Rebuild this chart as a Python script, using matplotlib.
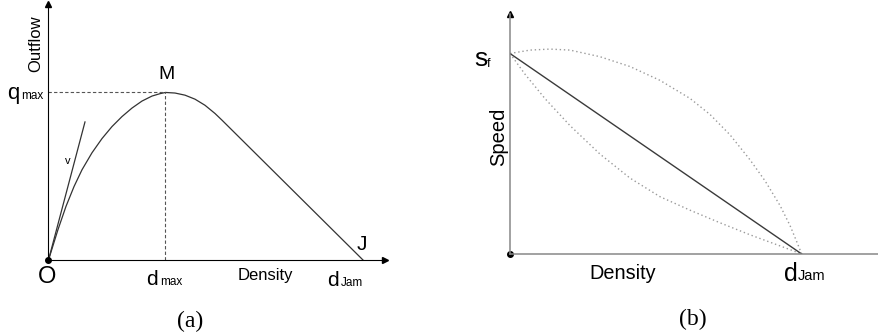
import matplotlib
matplotlib.use("Agg")
import matplotlib.pyplot as plt

# ---------------- data (a): flow-density curve ----------------
density_a = [0, 3.02, 5.56, 8.11, 10.65, 13.83, 17.01, 20.19, 23.37, 26.55, 29.73,
             32.91, 35.45, 37.2, 40.22, 43.4, 46.58, 49.76, 52.94, 55.17, 100]
flow_a = [0, 18.15, 32.0, 43.82, 53.85, 64.0, 72.48, 79.64, 85.61, 90.69, 94.87,
          97.85, 99.28, 100, 99.66, 98.39, 96.0, 92.36, 87.46, 83.46, 0]
tangent_x = [0, 11.6]
tangent_y = [0, 82.4]
d_max = 37.2
q_max = 100

# ---------------- data (b): speed-density relations ----------------
density_lin = [0, 100]
speed_lin = [100, 0]
density_up = [0, 6.86, 13.71, 20.57, 30.85, 41.14, 51.42, 61.71, 68.56, 75.42,
              82.28, 87.43, 92.57, 96.0, 98.39, 100]
speed_up = [100, 101.7, 102.2, 101.7, 98.4, 93.5, 86.6, 77.6, 69.6, 59.45,
            46.98, 36.5, 24.2, 14.2, 5.81, 0]
density_lo = [0, 5.14, 12.0, 20.57, 30.85, 41.14, 51.42, 61.71, 72.0, 82.28,
              92.57, 100]
speed_lo = [100, 89.68, 77.5, 64.04, 49.83, 37.86, 28.58, 21.85, 15.56, 9.58,
            4.04, 0]

W, H = 879, 336
fig = plt.figure(figsize=(W / 100, H / 100), dpi=100)
SANS = "Liberation Sans"
SERIF = "Liberation Serif"


def rect(x0, y_bottom, x1, y_top):
    return [x0 / W, 1 - y_bottom / H, (x1 - x0) / W, (y_bottom - y_top) / H]


def T(px, py, s, size, **kw):
    kw.setdefault("family", SANS)
    fig.text(px / W, 1 - py / H, s, fontsize=size, **kw)


# ---------------- panel (a) ----------------
axA = fig.add_axes(rect(48.5, 260, 385, 4))
axA.set_xlim(0, 107.0)
axA.set_ylim(0, 152.8)
for s in ("top", "right"):
    axA.spines[s].set_visible(False)
for s in ("left", "bottom"):
    axA.spines[s].set_linewidth(0.8)
    axA.spines[s].set_color("black")
axA.set_xticks([])
axA.set_yticks([])
axA.patch.set_alpha(0)
axA.plot(1, 0, ">", color="black", ms=4, transform=axA.transAxes, clip_on=False)
axA.plot(0, 1, "^", color="black", ms=4, transform=axA.transAxes, clip_on=False)
axA.plot(density_a, flow_a, color="#333333", lw=0.9, solid_joinstyle="round")
axA.plot(tangent_x, tangent_y, color="#333333", lw=0.9)
axA.plot([0, d_max], [q_max, q_max], color="#555555", lw=0.8, ls=(0, (3, 2)))
axA.plot([d_max, d_max], [0, q_max], color="#555555", lw=0.8, ls=(0, (3, 2)))
axA.plot(0, 0, "o", color="black", ms=4, clip_on=False)

T(36, 44, "Outflow", 12, rotation=90, ha="center", va="center")
T(167, 74.5, "M", 14, ha="center", va="center")
T(7.5, 99, "q", 16, ha="left", va="baseline")
T(21.5, 99, "max", 8.5, ha="left", va="baseline")
T(47, 277, "O", 17, ha="center", va="center")
T(146.5, 285, "d", 15, ha="left", va="baseline")
T(160, 285, "max", 8.5, ha="left", va="baseline")
T(265.5, 280, "Density", 12, ha="center", va="baseline")
T(327.5, 286, "d", 15, ha="left", va="baseline")
T(340.5, 286, "Jam", 8.5, ha="left", va="baseline")
T(362, 244.5, "J", 15, ha="center", va="center")
T(68, 161, "v", 8, ha="center", va="center")
T(190.5, 321, "(a)", 17, ha="center", va="center", family=SERIF)

# ---------------- panel (b) ----------------
axB = fig.add_axes(rect(510, 254, 879, 14))
axB.set_xlim(0, 126.5)
axB.set_ylim(0, 119.7)
for s in ("top", "right"):
    axB.spines[s].set_visible(False)
for s in ("left", "bottom"):
    axB.spines[s].set_linewidth(1.1)
    axB.spines[s].set_color("#888888")
axB.set_xticks([])
axB.set_yticks([])
axB.patch.set_alpha(0)
axB.plot(0, 1, "^", color="black", ms=4, transform=axB.transAxes, clip_on=False)
axB.plot(density_up, speed_up, color="#9a9a9a", lw=1.0, ls=(0, (1, 2)))
axB.plot(density_lo, speed_lo, color="#9a9a9a", lw=1.0, ls=(0, (1, 2)))
axB.plot(density_lin, speed_lin, color="#3a3a3a", lw=1.0)
axB.plot(0, 0, "o", color="black", ms=4, clip_on=False)

T(474.5, 66.5, "s", 19, ha="left", va="baseline")
T(486.5, 67, "f", 9, ha="left", va="baseline")
T(499, 137, "Speed", 14.5, rotation=90, ha="center", va="center")
T(623, 279, "Density", 14.3, ha="center", va="baseline")
T(784.5, 281, "d", 18, ha="left", va="baseline")
T(798, 280, "Jam", 10.5, ha="left", va="baseline")
T(693, 319, "(b)", 17, ha="center", va="center", family=SERIF)

fig.savefig("out.png", dpi=100)
